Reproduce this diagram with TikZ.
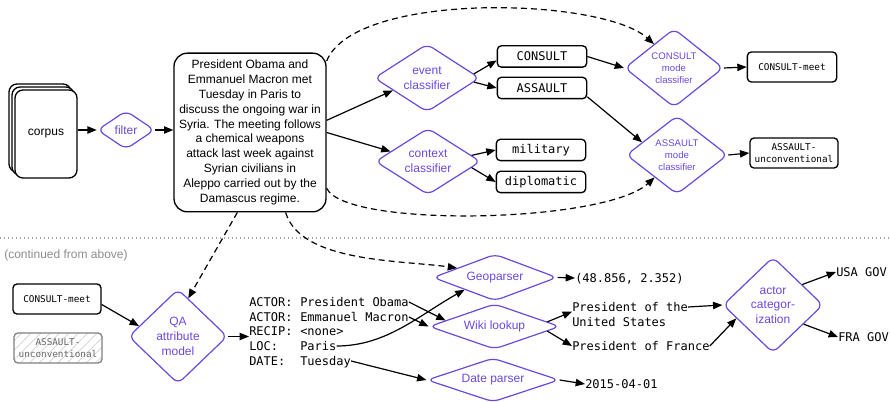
\documentclass[tikz,border=0pt]{standalone}
\usepackage{fontspec}
\setmainfont{Liberation Sans}
\setmonofont{DejaVu Sans Mono}
\usetikzlibrary{shapes.geometric,arrows.meta,patterns.meta,positioning}
\definecolor{modelpurple}{RGB}{106,72,222}

\begin{document}
\begin{tikzpicture}[x=0.75pt,y=-0.75pt,
  font=\fontsize{9}{11}\selectfont,
  model/.style={diamond, draw=modelpurple, text=modelpurple, line width=0.9pt,
    rounded corners=5pt, inner sep=0pt, aspect=1.2, align=center},
  flatmodel/.style={model, aspect=3},
  tag/.style={draw, rounded corners=3pt, line width=1pt, inner sep=0pt,
    align=center, font=\fontsize{9}{11}\ttfamily},
  smalltag/.style={tag, font=\fontsize{7}{9.2}\ttfamily,
    minimum width=66pt, minimum height=22.5pt},
  doc/.style={draw, fill=white, rounded corners=6pt, line width=1pt,
    minimum width=46.5pt, minimum height=66pt},
  mono/.style={inner sep=0pt, anchor=west, text height=6.6pt, text depth=0pt,
    font=\fontsize{9}{11}\ttfamily},
  arr/.style={-{Triangle[length=7pt,width=5.5pt]}, line width=0.9pt},
  darr/.style={arr, dash pattern=on 4.5pt off 3pt}]

\useasboundingbox (0,0) rectangle (890,402);

% corpus stack and filter
\foreach \d in {6,3}{
    \node[doc] at (46-\d,134-\d) {};
}
\node[doc] (corpus) at (46,134) {corpus};
\node[model, minimum width=43pt, minimum height=29pt] (filter) at (126,130) {filter};

% the news text
\node[draw, rounded corners=10pt, line width=1pt, minimum width=114pt,
    minimum height=119pt, align=center, font=\fontsize{9}{11.1}\selectfont]
    (news) at (250,132.5) {President Obama and\\Emmanuel Macron met\\Tuesday in Paris to\\
    discuss the ongoing war in\\Syria. The meeting follows\\a chemical weapons\\
    attack last week against\\Syrian civilians in\\Aleppo carried out by the\\Damascus regime.};

% classifiers
\node[model, minimum width=79pt, minimum height=51pt] (event) at (427,78) {event\\classifier};
\node[model, minimum width=79pt, minimum height=50pt] (context) at (428,161.5) {context\\classifier};

\node[tag, minimum width=67pt, minimum height=16pt] (consult) at (542,56.5) {CONSULT};
\node[tag, minimum width=67pt, minimum height=16pt] (assault) at (542,88) {ASSAULT};
\node[tag, minimum width=67pt, minimum height=16pt] (military) at (541,150) {military};
\node[tag, minimum width=67pt, minimum height=16pt] (diplomatic) at (541,182) {diplomatic};

\node[model, font=\fontsize{7.2}{9}\selectfont, minimum width=74pt, minimum height=59pt]
    (cmode) at (674,68) {CONSULT\\mode\\classifier};
\node[model, font=\fontsize{7.2}{9}\selectfont, minimum width=76pt, minimum height=59pt]
    (amode) at (677,155) {ASSAULT\\mode\\classifier};

\node[smalltag, minimum width=67pt] (cmeet) at (792,67) {CONSULT-meet};
\node[smalltag] (aunconv) at (794,153) {ASSAULT-\\unconventional};

% top arrows
\draw[arr] (corpus.east |- filter.west) -- (filter.west);
\draw[arr] (filter.east) -- (filter.east -| news.west);
\draw[arr] (news.9) -- (event.200);
\draw[arr] (news.0) -- (context.165);
\draw[arr] (event.5) -- (consult.185);
\draw[arr] (event.-5) -- (assault.west);
\draw[arr] (context.8) -- (military.west);
\draw[arr] (context.-8) -- (diplomatic.west);
\draw[arr] (consult.east) -- (cmode.west);
\draw[arr] (assault.-11) -- (amode.160);
\draw[arr] (cmode.east) -- (cmeet.west);
\draw[arr] (amode.east) -- (aunconv.west);

\draw[darr] (news.43) .. controls +(28,-70) and +(-52,-47) .. (cmode.130);
\draw[darr] (news.-36) .. controls +(18,40) and +(-50,46) .. (amode.-135);

% separator
\draw[black!35, dotted, line width=1pt] (0,238) -- (890,238);
\node[black!45, anchor=west, inner sep=0pt] (cont) at (4,255) {(continued from above)};

% second stage
\node[smalltag] (cmeet2) at (57,299) {CONSULT-meet};
\node[smalltag, draw=black!50, text=black!60,
    pattern={Lines[angle=45,distance=5pt,line width=0.4pt]}, pattern color=black!22]
    (aunconv2) at (58,348) {ASSAULT-\\unconventional};

\node[model, minimum width=74pt, minimum height=71pt] (qa) at (178,336.5) {QA\\attribute\\model};

% attributes
\node[mono] (k1) at (249,302) {ACTOR:};
\node[mono] (k2) at (249,317) {ACTOR:};
\node[mono] (k3) at (249,331) {RECIP:};
\node[mono] (k4) at (249,346) {LOC:};
\node[mono] (k5) at (249,361) {DATE:};
\node[mono] (v1) at (300,302) {President Obama};
\node[mono] (v2) at (300,317) {Emmanuel Macron};
\node[mono] (v3) at (300,331) {<none>};
\node[mono] (v4) at (300,346) {Paris};
\node[mono] (v5) at (300,361) {Tuesday};

\node[flatmodel, minimum width=93pt, minimum height=35pt] (geopar) at (495,277.5) {Geoparser};
\node[flatmodel, minimum width=98pt, minimum height=34pt] (wiki) at (494.5,326.5) {Wiki lookup};
\node[flatmodel, minimum width=99pt, minimum height=33pt] (date) at (493,380) {Date parser};

\node[mono] (geo) at (575,278) {(48.856, 2.352)};
\node[mono] (usa1) at (572,307) {President of the};
\node[mono] (usa2) at (572,322) {United States};
\node[mono] (fra) at (572,346) {President of France};
\node[mono] (day) at (585,384) {2015-04-01};

\node[model, minimum width=75pt, minimum height=72pt] (actor) at (773,305) {actor\\categor-\\ization};
\node[mono] (usagov) at (836,272) {USA GOV};
\node[mono] (fragov) at (838,337) {FRA GOV};

% bottom arrows
\draw[darr] (news.-99) -- (qa.75);
\draw[darr] (news.-66) .. controls +(15,50) and +(-57,-8) .. (geopar.166);
\draw[arr] (cmeet2.-7) -- (qa.165);
\draw[arr] (qa.east) -- (qa.east -| k3.west);
\draw[arr] (v1.east) -- (wiki.173);
\draw[arr] (v2.east) -- (wiki.west);
\draw[arr] (v4.east) .. controls +(50,0) and +(-45,25) .. (geopar.202);
\draw[arr] (v5.east) -- (date.west);
\draw[arr] (geopar.east) -- (geo.west);
\draw[arr] (wiki.5) -- (usa1.south west);
\draw[arr] (wiki.-5) -- (fra.west);
\draw[arr] (date.east) -- (day.west);
\draw[arr] (usa1.east) -- (actor.west);
\draw[arr] (fra.east) -- (actor.200);
\draw[arr] (actor.35) -- (usagov.west);
\draw[arr] (actor.-32) -- (fragov.west);

\end{tikzpicture}
\end{document}
